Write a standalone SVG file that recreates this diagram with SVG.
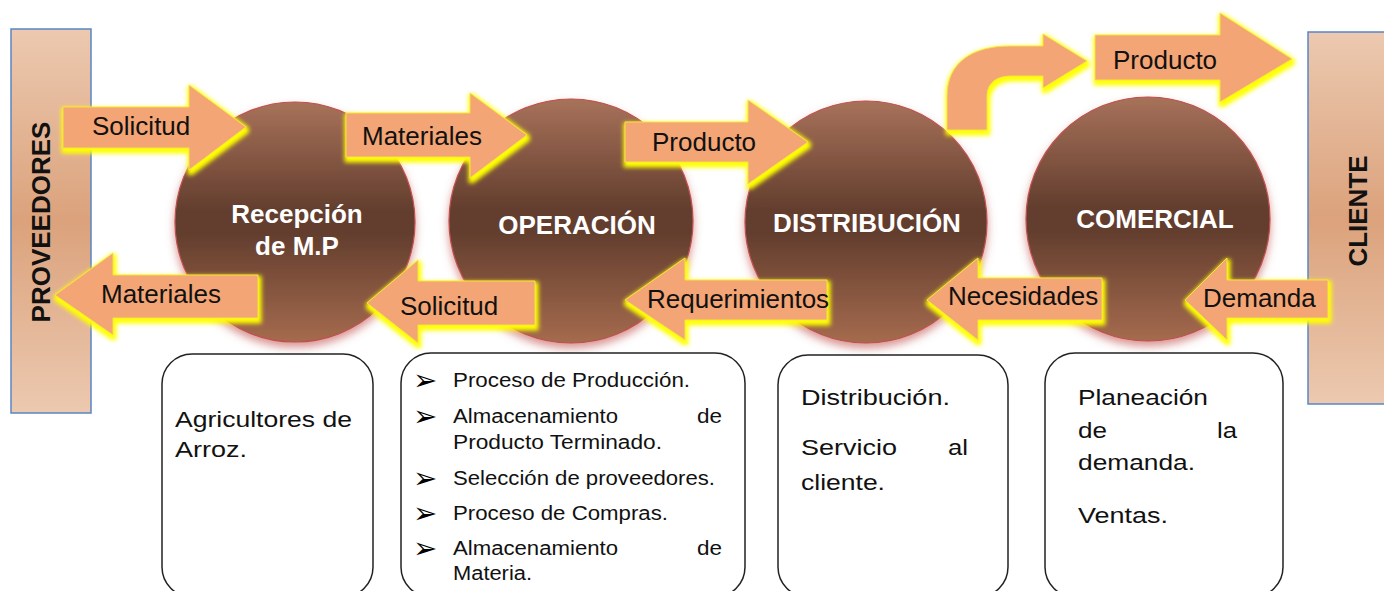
<svg xmlns="http://www.w3.org/2000/svg" width="1384" height="591" viewBox="0 0 1384 591">
<defs>
  <linearGradient id="sideGrad" x1="0" y1="0" x2="0" y2="1">
    <stop offset="0" stop-color="#ecc9b0"/>
    <stop offset="0.5" stop-color="#dba27c"/>
    <stop offset="1" stop-color="#ecc9b0"/>
  </linearGradient>
  <linearGradient id="circGrad" x1="0" y1="0" x2="0" y2="1">
    <stop offset="0" stop-color="#a8725a"/>
    <stop offset="0.45" stop-color="#633e2e"/>
    <stop offset="0.55" stop-color="#633e2e"/>
    <stop offset="1" stop-color="#a56b4e"/>
  </linearGradient>
  <filter id="glow" x="-20%" y="-30%" width="140%" height="160%">
    <feMorphology in="SourceAlpha" operator="dilate" radius="2" result="d"/>
    <feOffset in="d" dx="1" dy="3" result="o"/>
    <feGaussianBlur in="o" stdDeviation="2" result="b"/>
    <feFlood flood-color="#ffff00"/>
    <feComposite in2="b" operator="in"/>
    <feMerge><feMergeNode/><feMergeNode in="SourceGraphic"/></feMerge>
  </filter>
  <filter id="cshadow" x="-20%" y="-20%" width="140%" height="150%">
    <feGaussianBlur in="SourceAlpha" stdDeviation="4" result="b"/>
    <feOffset in="b" dx="0" dy="5" result="o"/>
    <feFlood flood-color="#c0504d" flood-opacity="0.6"/>
    <feComposite in2="o" operator="in"/>
    <feMerge><feMergeNode/><feMergeNode in="SourceGraphic"/></feMerge>
  </filter>
  <style>
    .side { fill: url(#sideGrad); stroke: #5a86c5; stroke-width: 1.5; }
    .sideTxt { font-family: "Liberation Sans", Arial, sans-serif; font-weight: bold; font-size: 26px; fill: #111; text-anchor: middle; }
    .circ { fill: url(#circGrad); stroke: #c0504d; stroke-width: 1.2; filter: url(#cshadow); }
    .cTxt { font-family: "Liberation Sans", Arial, sans-serif; font-weight: bold; font-size: 26px; fill: #ffffff; text-anchor: middle; }
    .arrow { fill: #f4a574; stroke: #f7e33a; stroke-width: 1; filter: url(#glow); }
    .aTxt { font-family: "Liberation Sans", Arial, sans-serif; font-size: 26px; fill: #111; }
    .box { fill: #ffffff; stroke: #222; stroke-width: 1.5; }
    .bTxt { font-family: "Liberation Sans", Arial, sans-serif; font-size: 22px; fill: #111; }
    .lTxt { font-family: "Liberation Sans", Arial, sans-serif; font-size: 20px; fill: #111; }
    .bul { font-family: "DejaVu Sans", sans-serif; font-size: 29px; font-weight: bold; fill: #000; }
  </style>
</defs>
<rect width="1384" height="591" fill="#ffffff"/>

<g id="proveedores">
  <rect class="side" x="11" y="29" width="80" height="384"/>
  <text class="sideTxt" transform="translate(50,222) rotate(-90)">PROVEEDORES</text>
</g>
<g id="cliente">
  <rect class="side" x="1308" y="32" width="90" height="372"/>
  <text class="sideTxt" transform="translate(1367,211) rotate(-90)">CLIENTE</text>
</g>

<g id="recepcion">
  <circle class="circ" cx="295" cy="222" r="120"/>
  <text class="cTxt" x="297" y="223">Recepción</text>
  <text class="cTxt" x="297" y="255">de M.P</text>
</g>
<g id="operacion">
  <circle class="circ" cx="571" cy="221" r="122"/>
  <text class="cTxt" x="577" y="234">OPERACIÓN</text>
</g>
<g id="distribucion">
  <circle class="circ" cx="866" cy="222" r="121"/>
  <text class="cTxt" x="867" y="232">DISTRIBUCIÓN</text>
</g>
<g id="comercial">
  <circle class="circ" cx="1148" cy="219" r="122"/>
  <text class="cTxt" x="1155" y="228">COMERCIAL</text>
</g>

<g id="connectors">
  <path class="arrow" d="M63,107 L189,107 L189,85 L246,127 L189,170 L189,148 L63,148 Z"/>
  <text class="aTxt" x="92" y="135">Solicitud</text>

  <path class="arrow" d="M346,113 L470,113 L470,93 L527,135 L470,178 L470,157 L346,157 Z"/>
  <text class="aTxt" x="362" y="145">Materiales</text>

  <path class="arrow" d="M625,122 L748,122 L748,100 L808,142 L748,184 L748,162 L625,162 Z"/>
  <text class="aTxt" x="652" y="151">Producto</text>

  <path class="arrow" d="M947,130 L947,96 C947,62 973,46 1010,46 L1043,46 L1043,34 L1087,61 L1043,88 L1043,76 L1012,76 C996,76 987,83 987,97 L987,130 Z"/>

  <path class="arrow" d="M1095,35 L1220,35 L1220,13 L1292,59 L1220,102 L1220,80 L1095,80 Z"/>
  <text class="aTxt" x="1113" y="69">Producto</text>

  <path class="arrow" d="M258,275 L113,275 L113,253 L55,295 L113,335 L113,318 L258,318 Z"/>
  <text class="aTxt" x="101" y="303">Materiales</text>

  <path class="arrow" d="M535,281 L418,281 L418,260 L367,303 L418,343 L418,325 L535,325 Z"/>
  <text class="aTxt" x="400" y="315">Solicitud</text>

  <path class="arrow" d="M827,280 L685,280 L685,258 L625,300 L685,340 L685,320 L827,320 Z"/>
  <text class="aTxt" x="647" y="308">Requerimientos</text>

  <path class="arrow" d="M1102,278 L978,278 L978,258 L927,300 L978,340 L978,320 L1102,320 Z"/>
  <text class="aTxt" x="948" y="305">Necesidades</text>

  <path class="arrow" d="M1328,280 L1227,280 L1227,258 L1185,300 L1227,340 L1227,318 L1328,318 Z"/>
  <text class="aTxt" x="1203" y="307">Demanda</text>
</g>

<g id="box-recepcion">
  <rect class="box" x="162" y="354" width="211" height="243" rx="30"/>
  <text class="bTxt" x="175" y="427" textLength="177" lengthAdjust="spacingAndGlyphs">Agricultores de</text>
  <text class="bTxt" x="175" y="457" textLength="72" lengthAdjust="spacingAndGlyphs">Arroz.</text>
</g>

<g id="box-operacion">
  <rect class="box" x="401" y="353" width="344" height="244" rx="30"/>
  <text class="bul" x="413" y="390">➢</text>
  <text class="lTxt" x="453" y="387" textLength="237" lengthAdjust="spacingAndGlyphs">Proceso de Producción.</text>
  <text class="bul" x="413" y="426">➢</text>
  <text class="lTxt" x="453" y="423" textLength="165" lengthAdjust="spacingAndGlyphs">Almacenamiento</text>
  <text class="lTxt" x="697" y="423" textLength="25" lengthAdjust="spacingAndGlyphs">de</text>
  <text class="lTxt" x="453" y="449" textLength="209" lengthAdjust="spacingAndGlyphs">Producto Terminado.</text>
  <text class="bul" x="413" y="488">➢</text>
  <text class="lTxt" x="453" y="485" textLength="262" lengthAdjust="spacingAndGlyphs">Selección de proveedores.</text>
  <text class="bul" x="413" y="523">➢</text>
  <text class="lTxt" x="453" y="520" textLength="215" lengthAdjust="spacingAndGlyphs">Proceso de Compras.</text>
  <text class="bul" x="413" y="558">➢</text>
  <text class="lTxt" x="453" y="555" textLength="165" lengthAdjust="spacingAndGlyphs">Almacenamiento</text>
  <text class="lTxt" x="697" y="555" textLength="25" lengthAdjust="spacingAndGlyphs">de</text>
  <text class="lTxt" x="453" y="580" textLength="79" lengthAdjust="spacingAndGlyphs">Materia.</text>
</g>

<g id="box-distribucion">
  <rect class="box" x="778" y="355" width="230" height="242" rx="30"/>
  <text class="bTxt" x="801" y="405" textLength="149" lengthAdjust="spacingAndGlyphs">Distribución.</text>
  <text class="bTxt" x="801" y="455" textLength="96" lengthAdjust="spacingAndGlyphs">Servicio</text>
  <text class="bTxt" x="948" y="455" textLength="20" lengthAdjust="spacingAndGlyphs">al</text>
  <text class="bTxt" x="801" y="490" textLength="84" lengthAdjust="spacingAndGlyphs">cliente.</text>
</g>

<g id="box-comercial">
  <rect class="box" x="1045" y="353" width="238" height="244" rx="30"/>
  <text class="bTxt" x="1078" y="405" textLength="130" lengthAdjust="spacingAndGlyphs">Planeación</text>
  <text class="bTxt" x="1078" y="438" textLength="29" lengthAdjust="spacingAndGlyphs">de</text>
  <text class="bTxt" x="1217" y="438" textLength="20" lengthAdjust="spacingAndGlyphs">la</text>
  <text class="bTxt" x="1078" y="470" textLength="117" lengthAdjust="spacingAndGlyphs">demanda.</text>
  <text class="bTxt" x="1078" y="523" textLength="90" lengthAdjust="spacingAndGlyphs">Ventas.</text>
</g>
</svg>
